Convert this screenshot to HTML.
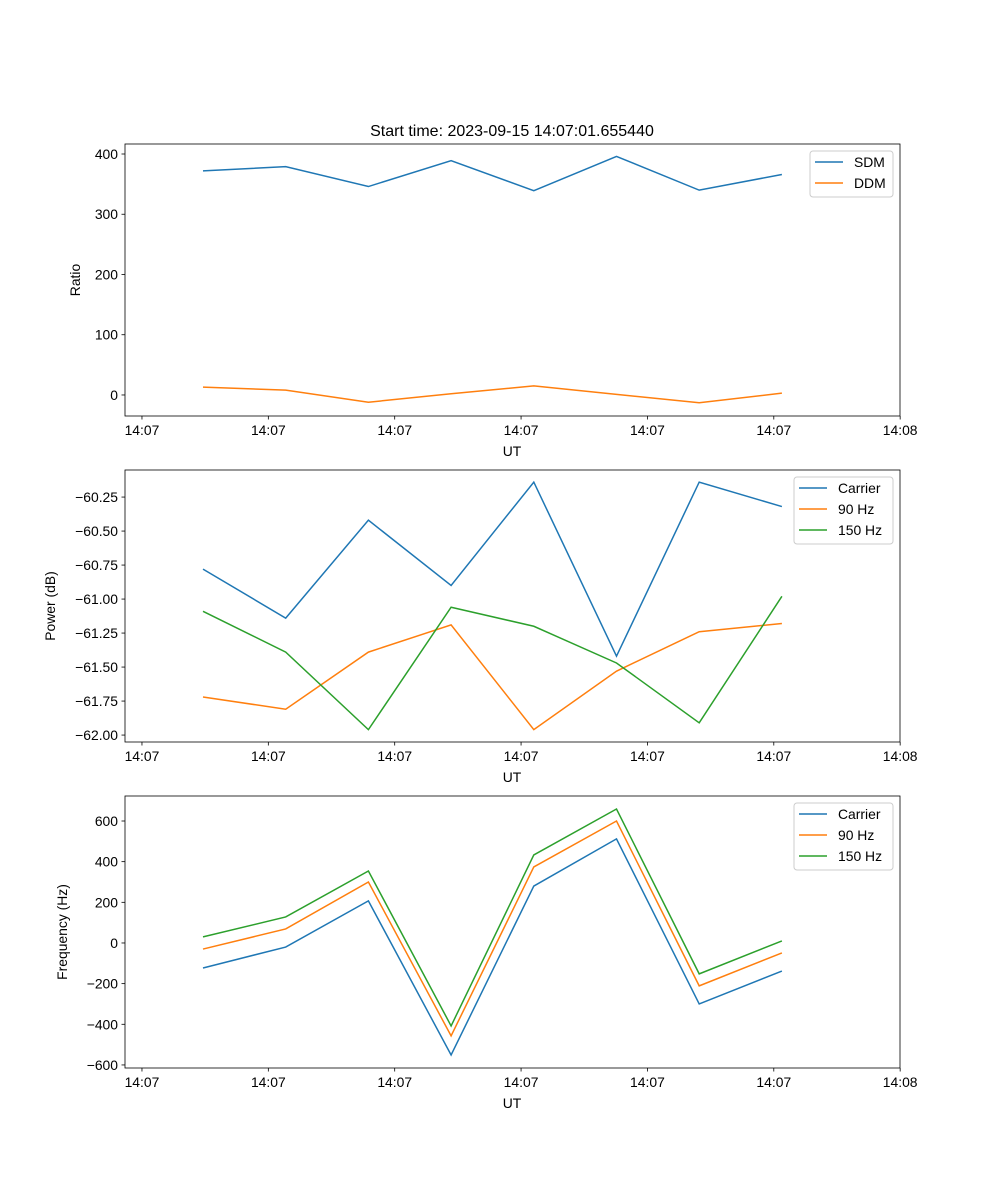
<!DOCTYPE html>
<html><head><meta charset="utf-8"><style>
body{margin:0;background:#fff}
svg{display:block;font-family:"Liberation Sans","DejaVu Sans",sans-serif}
</style></head><body>
<svg id="chart" width="1000" height="1200">
<text x="512" y="136" font-size="16" text-anchor="middle">Start time: 2023-09-15 14:07:01.655440</text>
</svg>
<script>
const xIndex=[0,1,2,3,4,5,6,7];
const xTickLabels=["14:07","14:07","14:07","14:07","14:07","14:07","14:08"];
const ratioTicks=[0,100,200,300,400];
const sdm=[372,379,346,389,339,396,340,366];
const ddm=[13,8,-12,2,15,1,-13,3];
const powerTicks=[-62.00,-61.75,-61.50,-61.25,-61.00,-60.75,-60.50,-60.25];
const powerCarrier=[-60.78,-61.14,-60.42,-60.90,-60.14,-61.42,-60.14,-60.32];
const power90=[-61.72,-61.81,-61.39,-61.19,-61.96,-61.53,-61.24,-61.18];
const power150=[-61.09,-61.39,-61.96,-61.06,-61.20,-61.47,-61.91,-60.98];
const freqTicks=[-600,-400,-200,0,200,400,600];
const freqCarrier=[-123,-20,207,-551,280,512,-300,-138];
const freq90=[-30,69,300,-457,374,600,-211,-49];
const freq150=[30,128,354,-408,433,659,-152,10];

const NS="http://www.w3.org/2000/svg";
const svg=document.getElementById('chart');
const L=125,R=900;
const x0=203,dx=82.7;
function xs(i){return x0+i*dx;}
const tick0=-0.738,tickStep=1.528;
function mk(tag,attrs,parent){const e=document.createElementNS(NS,tag);for(const k in attrs)e.setAttribute(k,attrs[k]);(parent||svg).appendChild(e);return e;}

function panel(name,top,bot,ymin,ymax,yticks,fmt,series,ylabel,legend){
  const g=mk('g',{});
  
  
  const ys=v=>bot-(v-ymin)/(ymax-ymin)*(bot-top);
  yticks.forEach(t=>{
    const y=ys(t);
    mk('line',{x1:L-3.5,x2:L,y1:y,y2:y,stroke:'#000','stroke-width':0.8},g);
    const tx=mk('text',{x:L-7,y:y+5,'font-size':13.9,'text-anchor':'end'},g);
    tx.textContent=fmt(t);
    
    
  });
  xTickLabels.forEach((lab,k)=>{
    const x=xs(tick0+k*tickStep);
    mk('line',{x1:x,x2:x,y1:bot,y2:bot+3.5,stroke:'#000','stroke-width':0.8},g);
    const tx=mk('text',{x:x,y:bot+19,'font-size':13.9,'text-anchor':'middle'},g);
    tx.textContent=lab;
    
    
  });
  const xl=mk('text',{x:512,y:bot+40,'font-size':13.9,'text-anchor':'middle'},g);
  xl.textContent='UT';
  
  
  const yl=mk('text',{x:0,y:0,'font-size':13.9,'text-anchor':'middle',transform:`translate(${ylabel[1]},${(top+bot)/2}) rotate(-90)`},g);
  yl.textContent=ylabel[0];
  
  
  series.forEach(s=>{
    const p=mk('polyline',{points:s.v.map((v,i)=>xs(xIndex[i])+','+ys(v)).join(' '),fill:'none',stroke:s.c,'stroke-width':1.5},g);
    
    
  });
  mk('rect',{x:L,y:top,width:R-L,height:bot-top,fill:'none',stroke:'#000','stroke-width':0.8},g);
  const lg=mk('g',{},g);
  
  
  mk('rect',{x:legend[0],y:top+7,width:R-7-legend[0],height:series.length*21+4,fill:'#fff',stroke:'#ccc',rx:3},lg);
  series.forEach((s,k)=>{
    const y=top+18+k*21;
    mk('line',{x1:legend[0]+5,x2:legend[0]+33,y1:y,y2:y,stroke:s.c,'stroke-width':1.5},lg);
    const t=mk('text',{x:legend[0]+44,y:y+5,'font-size':13.9},lg);
    t.textContent=s.n;
    
    
  });
}
panel('ratio',144,416,-34.9,416.6,ratioTicks,t=>t===0?'0':String(t),
  [{n:'SDM',v:sdm,c:'#1f77b4'},{n:'DDM',v:ddm,c:'#ff7f0e'}],['Ratio',80],[810]);
panel('power',470,742,-62.051,-60.051,powerTicks,t=>'\u2212'+Math.abs(t).toFixed(2),
  [{n:'Carrier',v:powerCarrier,c:'#1f77b4'},{n:'90 Hz',v:power90,c:'#ff7f0e'},{n:'150 Hz',v:power150,c:'#2ca02c'}],['Power (dB)',55],[794]);
panel('frequency',796,1068,-615,723,freqTicks,t=>t<0?'\u2212'+Math.abs(t):String(t),
  [{n:'Carrier',v:freqCarrier,c:'#1f77b4'},{n:'90 Hz',v:freq90,c:'#ff7f0e'},{n:'150 Hz',v:freq150,c:'#2ca02c'}],['Frequency (Hz)',67],[794]);
</script>
</body></html>
